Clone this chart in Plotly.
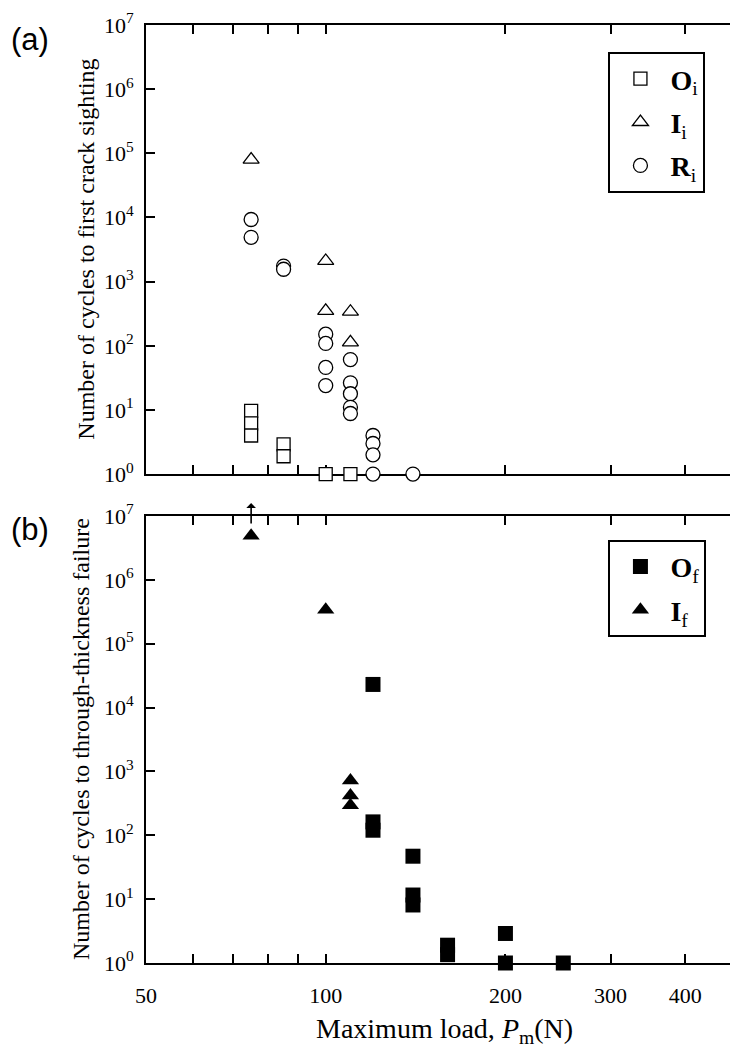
import numpy as np
import plotly.graph_objects as go

# ---------------- data ----------------
# Panel (a): cycles to first crack sighting
Oi_load = [75, 75, 75, 85, 85, 100, 110]
Oi_cycles = [9.7, 6.2, 4.0, 2.9, 1.9, 1, 1]

Ii_load = [75, 100, 100, 110, 110]
Ii_cycles = [8.0e4, 2100, 350, 340, 113]

Ri_load = [75, 75, 85, 85, 100, 100, 100, 100, 110, 110, 110, 110, 110, 120, 120, 120, 120, 140]
Ri_cycles = [9.3e3, 4.9e3, 1750, 1560, 152, 109, 46, 24, 61, 26.5, 17.9, 11, 8.8, 4.0, 3.0, 2.0, 1, 1]

# Panel (b): cycles to through-thickness failure
Of_load = [120, 120, 120, 140, 140, 140, 160, 160, 200, 200, 250]
Of_cycles = [2.3e4, 162, 120, 47, 11.6, 8.1, 1.9, 1.35, 2.9, 1, 1]

If_load = [75, 100, 110, 110, 110]
If_cycles = [4.9e6, 3.4e5, 720, 420, 295]

x_major = [50, 100, 200, 300, 400]
x_major_text = ["50", "100", "200", "300", "400"]
x_minor = [60, 70, 80, 90]
y_tickvals = [10 ** k for k in range(0, 8)]
y_ticktext = ["10<sup>%d</sup>" % k for k in range(0, 8)]

SERIF = "Liberation Serif"
SANS = "Liberation Sans"

fig = go.Figure()

open_line = dict(color="black", width=1.3)

fig.add_trace(go.Scatter(x=Oi_load, y=Oi_cycles, mode="markers", xaxis="x", yaxis="y",
                         name="<b>O</b><sub>i</sub>", legend="legend", legendgroup="a1", cliponaxis=False,
                         marker=dict(symbol="square", size=13, color="white", line=open_line)))
fig.add_trace(go.Scatter(x=Ii_load, y=Ii_cycles, mode="markers", xaxis="x", yaxis="y",
                         name="<b>I</b><sub>i</sub>", legend="legend", legendgroup="a2", cliponaxis=False,
                         marker=dict(symbol="triangle-up", size=14, color="white", line=open_line)))
fig.add_trace(go.Scatter(x=Ri_load, y=Ri_cycles, mode="markers", xaxis="x", yaxis="y",
                         name="<b>R</b><sub>i</sub>", legend="legend", legendgroup="a3", cliponaxis=False,
                         marker=dict(symbol="circle", size=14, color="white", line=open_line)))

fig.add_trace(go.Scatter(x=Of_load, y=Of_cycles, mode="markers", xaxis="x2", yaxis="y2",
                         name="<b>O</b><sub>f</sub>", legend="legend2", legendgroup="b1", cliponaxis=False,
                         marker=dict(symbol="square", size=15, color="black", line=dict(width=0))))
fig.add_trace(go.Scatter(x=If_load, y=If_cycles, mode="markers", xaxis="x2", yaxis="y2",
                         name="<b>I</b><sub>f</sub>", legend="legend2", legendgroup="b2", cliponaxis=False,
                         marker=dict(symbol="triangle-up", size=15, color="black", line=dict(width=0))))

axis_common = dict(type="log", showgrid=False, zeroline=False, showline=True, linecolor="black",
                   linewidth=2, mirror="ticks", ticks="inside", ticklen=9, tickwidth=2,
                   tickcolor="black", layer="below traces",
                   tickfont=dict(family=SERIF, size=22, color="black"))

minor_x = dict(tickmode="array", tickvals=x_minor, ticks="inside", ticklen=9, tickwidth=2,
               tickcolor="black", showgrid=False)

xr = [np.log10(50), np.log10(500)]
yr = [0, 7]

legend_common = dict(xanchor="left", yanchor="top", bordercolor="black", borderwidth=2,
                     bgcolor="white", font=dict(family=SERIF, size=28, color="black"),
                     itemwidth=50, tracegroupgap=4, traceorder="grouped",
                     entrywidth=78, entrywidthmode="pixels")

fig.update_layout(
    width=738, height=1050,
    margin=dict(l=138, r=1, t=13, b=95),
    paper_bgcolor="white", plot_bgcolor="white",
    showlegend=True,
    xaxis=dict(axis_common, range=xr, anchor="y", domain=[0, 1],
               tickmode="array", tickvals=x_major, showticklabels=False, minor=minor_x),
    yaxis=dict(axis_common, range=yr, anchor="x", domain=[0.5212, 1],
               tickmode="array", tickvals=y_tickvals, ticktext=y_ticktext, ticklabelstandoff=6),
    xaxis2=dict(axis_common, range=xr, anchor="y2", domain=[0, 1],
                tickmode="array", tickvals=x_major, ticktext=x_major_text, ticklabelstandoff=12,
                minor=minor_x),
    yaxis2=dict(axis_common, range=yr, anchor="x2", domain=[0, 0.4766],
                tickmode="array", tickvals=y_tickvals, ticktext=y_ticktext, ticklabelstandoff=6),
    legend=dict(legend_common, x=0.7746, y=0.9713),
    legend2=dict(legend_common, x=0.7746, y=0.4512),
)

annotations = [
    dict(text="(a)", xref="paper", yref="paper", x=-0.229, y=0.985, xanchor="left", yanchor="middle",
         showarrow=False, font=dict(family=SANS, size=31, color="black")),
    dict(text="(b)", xref="paper", yref="paper", x=-0.229, y=0.4618, xanchor="left", yanchor="middle",
         showarrow=False, font=dict(family=SANS, size=31, color="black")),
    dict(text="Number of cycles to first crack sighting", xref="paper", yref="paper",
         x=-0.102, y=(0.5212 + 1) / 2, textangle=-90, xanchor="center", yanchor="middle",
         showarrow=False, font=dict(family=SERIF, size=24, color="black")),
    dict(text="Number of cycles to through-thickness failure", xref="paper", yref="paper",
         x=-0.108, y=0.4766 / 2, textangle=-90, xanchor="center", yanchor="middle",
         showarrow=False, font=dict(family=SERIF, size=24, color="black")),
    dict(text="Maximum load, <i>P</i><sub>m</sub>(N)", xref="paper", yref="paper",
         x=0.5, y=-0.0722, xanchor="center", yanchor="middle",
         showarrow=False, font=dict(family=SERIF, size=28, color="black")),
    # run-out arrow above the first I_f point (anchored just above the marker, head at the far end)
    dict(text="", xref="x2", yref="y2", x=np.log10(If_load[0]), y=np.log10(If_cycles[0]) + 0.19,
         ax=0, ay=-22, showarrow=True, arrowhead=2, arrowside="start", arrowsize=1.6,
         arrowwidth=1.6, arrowcolor="black", standoff=0, startstandoff=0),
]
fig.update_layout(annotations=annotations)

fig.write_html("out.html")
